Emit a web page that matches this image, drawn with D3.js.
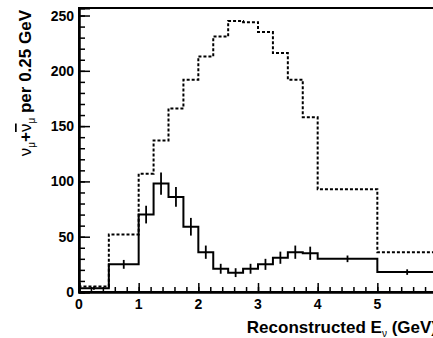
<!DOCTYPE html>
<html>
<head>
<meta charset="utf-8">
<script src="https://cdn.jsdelivr.net/npm/d3@7"></script>
<style>
  body { margin: 0; background: #fff; }
  svg text { font-family: "Liberation Sans", Arial, Helvetica, sans-serif; font-weight: bold; fill: #000; }
</style>
</head>
<body>
<svg id="chart" width="433" height="338"></svg>
<script>
// bin edges in GeV, contents per 0.25 GeV
const binEdges = [0, 0.5, 1, 1.25, 1.5, 1.75, 2, 2.25, 2.5, 2.75, 3, 3.25, 3.5, 3.75, 4, 5, 6];
const expected = [5, 52, 107, 137, 166, 192, 213, 231, 245, 244, 235, 216, 192, 158, 93, 36];
const observed = [3.5, 25, 70, 98, 86, 59, 36, 21, 17.5, 21, 25, 31, 36, 35, 30, 18];
const obsError = [1.5, 4, 8, 10, 9, 8, 6, 4.5, 4, 4.5, 5, 5.5, 6, 6, 3, 2.5];
const xTicks = [0, 1, 2, 3, 4, 5, 6];
const yTicks = [0, 50, 100, 150, 200, 250];

const svg = d3.select("#chart");
const x = d3.scaleLinear().domain([0, 6]).range([79, 437]);
const y = d3.scaleLinear().domain([0, 256.8]).range([292, 8]);

// frame
svg.append("rect")
    .attr("x", x(0)).attr("y", y(256.8))
    .attr("width", x(6) - x(0)).attr("height", y(0) - y(256.8))
    .attr("fill", "none").attr("stroke", "#000").attr("stroke-width", 2);

function stepPoints(vals) {
  const pts = [[binEdges[0], 0]];
  vals.forEach((v, i) => pts.push([binEdges[i], v]));
  pts.push([binEdges[binEdges.length - 1], vals[vals.length - 1]]);
  pts.push([binEdges[binEdges.length - 1], 0]);
  return pts;
}
const line = d3.line()
    .x(d => x(d[0]))
    .y(d => y(d[1]))
    .curve(d3.curveStepAfter);

svg.append("path")
    .attr("d", line(stepPoints(expected)))
    .attr("fill", "none").attr("stroke", "#000")
    .attr("stroke-width", 2).attr("stroke-dasharray", "3,2");

svg.append("path")
    .attr("d", line(stepPoints(observed)))
    .attr("fill", "none").attr("stroke", "#000").attr("stroke-width", 2);

svg.append("g").selectAll("line")
    .data(observed)
    .enter().append("line")
    .attr("x1", (d, i) => x((binEdges[i] + binEdges[i + 1]) / 2))
    .attr("x2", (d, i) => x((binEdges[i] + binEdges[i + 1]) / 2))
    .attr("y1", (d, i) => y(d - obsError[i]))
    .attr("y2", (d, i) => y(d + obsError[i]))
    .attr("stroke", "#000").attr("stroke-width", 1.8);

// axes, ticks pointing into the frame
const xAxis = svg.append("g").attr("transform", "translate(0," + y(0) + ")");
xAxis.call(d3.axisBottom(x).tickValues(d3.range(0, 6.01, 0.2)).tickSize(-5).tickFormat(""));
xAxis.call(g => g.append("g").call(d3.axisBottom(x).tickValues(xTicks).tickSize(-9).tickFormat("")));
xAxis.selectAll(".domain").attr("stroke-width", 2);
xAxis.selectAll(".tick line").attr("stroke-width", 1.5);

const yAxis = svg.append("g").attr("transform", "translate(" + x(0) + ",0)");
yAxis.call(d3.axisLeft(y).tickValues(d3.range(0, 257, 10)).tickSize(-6).tickFormat(""));
yAxis.call(g => g.append("g").call(d3.axisLeft(y).tickValues(yTicks).tickSize(-11).tickFormat("")));
yAxis.selectAll(".domain").attr("stroke-width", 2);
yAxis.selectAll(".tick line").attr("stroke-width", 1.5);

svg.append("g").selectAll("text")
    .data(xTicks)
    .enter().append("text")
    .attr("x", d => x(d)).attr("y", 309)
    .attr("text-anchor", "middle").attr("font-size", 14)
    .text(d => d);

svg.append("g").selectAll("text")
    .data(yTicks)
    .enter().append("text")
    .attr("x", 74).attr("y", d => y(d) + 5)
    .attr("text-anchor", "end").attr("font-size", 14)
    .text(d => d);

// axis titles
const xt = svg.append("text")
    .attr("x", x(6)).attr("y", 333)
    .attr("text-anchor", "end").attr("font-size", 17);
xt.append("tspan").text("Reconstructed E");
xt.append("tspan").attr("font-size", 10).attr("dy", 4).attr("font-weight", "normal").text("ν");
xt.append("tspan").attr("dy", -4).text(" (GeV)");

const yt = svg.append("text")
    .attr("transform", "translate(31,10) rotate(-90)")
    .attr("text-anchor", "end").attr("font-size", 17);
yt.append("tspan").attr("font-weight", "normal").text("ν");
yt.append("tspan").attr("font-size", 10).attr("dy", 4).attr("font-weight", "normal").text("μ");
yt.append("tspan").attr("dy", -4).text("+");
yt.append("tspan").attr("font-weight", "normal").style("text-decoration", "overline").text("ν");
yt.append("tspan").attr("font-size", 10).attr("dy", 4).attr("font-weight", "normal").text("μ");
yt.append("tspan").attr("dy", -4).text(" per 0.25 GeV");
</script>
</body>
</html>
